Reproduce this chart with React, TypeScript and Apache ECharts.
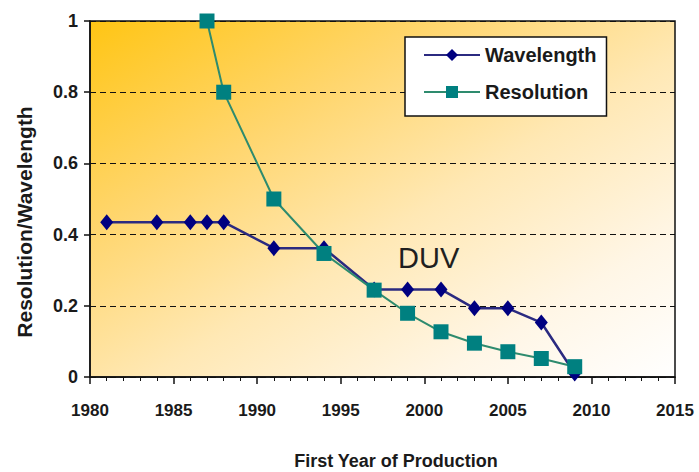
import React, { useEffect, useRef } from "react";
import * as echarts from "echarts";

const wavelengthYears = [1981, 1984, 1986, 1987, 1988, 1991, 1994, 1997, 1999, 2001, 2003, 2005, 2007, 2009];
const wavelengthValues = [0.435, 0.435, 0.435, 0.435, 0.435, 0.362, 0.362, 0.246, 0.246, 0.246, 0.193, 0.193, 0.153, 0.01];

const resolutionYears = [1987, 1988, 1991, 1994, 1997, 1999, 2001, 2003, 2005, 2007, 2009];
const resolutionValues = [1.0, 0.8, 0.5, 0.347, 0.244, 0.179, 0.127, 0.095, 0.071, 0.052, 0.029];

const FONT = "'Liberation Sans', Arial, sans-serif";
const TEXT = "#1a1a1a";

export default function App() {
  const ref = useRef<HTMLDivElement>(null);
  useEffect(() => {
    if (!ref.current) return;
    const chart = echarts.init(ref.current, undefined, { renderer: "svg" });
    chart.setOption({
      animation: false,
      backgroundColor: "#ffffff",
      textStyle: { fontFamily: FONT },
      grid: {
        left: 90,
        top: 21,
        width: 585,
        height: 356,
        show: true,
        borderColor: "#111",
        borderWidth: 1.5,
        backgroundColor: {
          type: "linear",
          x: 0,
          y: 0,
          x2: 1,
          y2: 1,
          colorStops: [
            { offset: 0, color: "#FFC514" },
            { offset: 0.3, color: "#FFD66E" },
            { offset: 0.55, color: "#FFE8B4" },
            { offset: 0.8, color: "#FFF6E6" },
            { offset: 1, color: "#FFFFFF" },
          ],
        },
      },
      legend: {
        left: 405,
        top: 37,
        orient: "vertical",
        backgroundColor: "#ffffff",
        borderColor: "#111",
        borderWidth: 1.5,
        padding: [7, 10, 13, 18],
        itemWidth: 56,
        itemHeight: 15,
        itemGap: 15,
        textStyle: { fontFamily: FONT, fontSize: 20, fontWeight: "bold", color: TEXT, lineHeight: 22 },
        data: ["Wavelength", "Resolution"],
      },
      xAxis: {
        type: "value",
        min: 1980,
        max: 2015,
        interval: 5,
        axisLine: { lineStyle: { color: "#111", width: 1.5 } },
        axisTick: { show: true, length: 7, lineStyle: { color: "#111", width: 1.5 } },
        minorTick: { show: true, splitNumber: 5, length: 4, lineStyle: { color: "#111" } },
        axisLabel: {
          fontFamily: FONT,
          fontSize: 17,
          fontWeight: "bold",
          color: TEXT,
          margin: 25,
          formatter: (v: number) => String(v),
        },
        splitLine: { show: false },
      },
      yAxis: {
        type: "value",
        min: 0,
        max: 1,
        interval: 0.2,
        axisLine: { lineStyle: { color: "#111", width: 1.5 } },
        axisTick: { show: true, length: 6, lineStyle: { color: "#111", width: 1.5 } },
        axisLabel: { fontFamily: FONT, fontSize: 18, fontWeight: "bold", color: TEXT, margin: 12 },
        splitLine: { show: true, lineStyle: { color: "#111", type: [6, 4], width: 1.2 } },
      },
      graphic: [
        {
          type: "text",
          x: 398,
          y: 258,
          style: {
            text: "DUV",
            fontFamily: FONT,
            fontSize: 29,
            fill: "#1f1f1f",
            textAlign: "left",
            textVerticalAlign: "middle",
          },
          z: 10,
        },
        {
          type: "text",
          x: 24,
          y: 222,
          rotation: Math.PI / 2,
          style: {
            text: "Resolution/Wavelength",
            fontFamily: FONT,
            fontSize: 21,
            fontWeight: "bold",
            fill: TEXT,
            textAlign: "center",
            textVerticalAlign: "middle",
          },
        },
        {
          type: "text",
          x: 396,
          y: 461,
          style: {
            text: "First Year of Production",
            fontFamily: FONT,
            fontSize: 18,
            fontWeight: "bold",
            fill: TEXT,
            textAlign: "center",
            textVerticalAlign: "middle",
          },
        },
      ],
      series: [
        {
          name: "Wavelength",
          type: "line",
          data: wavelengthYears.map((y, i) => [y, wavelengthValues[i]]),
          symbol: "diamond",
          symbolSize: [13, 16],
          lineStyle: { color: "#2B2A80", width: 2.5 },
          itemStyle: { color: "#000080" },
          z: 2,
        },
        {
          name: "Resolution",
          type: "line",
          data: resolutionYears.map((y, i) => [y, resolutionValues[i]]),
          symbol: "rect",
          symbolSize: 15,
          lineStyle: { color: "#2E8B6E", width: 2 },
          itemStyle: { color: "#008080" },
          z: 3,
        },
      ],
    });
    return () => chart.dispose();
  }, []);
  return <div ref={ref} style={{ position: "absolute", left: 0, top: 0, width: 699, height: 472 }} />;
}
